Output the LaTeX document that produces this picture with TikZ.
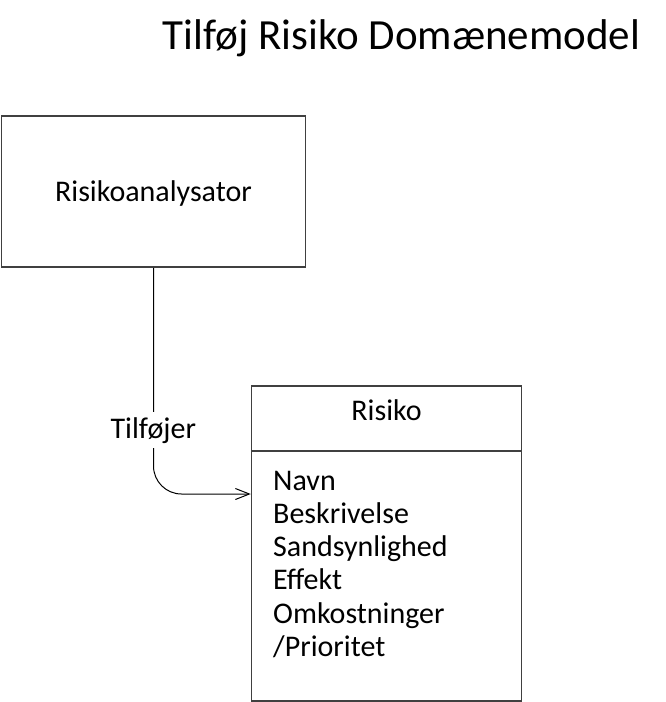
\documentclass[tikz,border=0pt]{standalone}
\usepackage{fontspec}
\setmainfont{Carlito}
\usetikzlibrary{arrows.meta}

\definecolor{kant}{HTML}{404040}

\tikzstyle{block} = [rectangle, draw=kant, line width=1.5pt, fill=white, inner sep=0pt]
\tikzstyle{tekst} = [font=\fontsize{30}{33}\selectfont, inner sep=0pt]
\tikzstyle{arrow} = [line width=1pt, ->, >={Straight Barb[length=14pt,width=11pt]}]

\begin{document}
\begin{tikzpicture}[x=1pt, y=-1pt]
                \useasboundingbox (0,0) rectangle (665,702);
                \node (titel) [anchor=base, font=\fontsize{43}{45}\selectfont, inner sep=0pt] at (401.5,49) {Tilføj Risiko Domænemodel};

                \node (analysator) [block, minimum width=304pt, minimum height=151pt] at (153.5,191.5) {};
                \node (analysatornavn) [tekst, anchor=base] at (153.5,201) {Risikoanalysator};

                \node (risiko) [block, minimum width=270pt, minimum height=315pt] at (386.5,543.5) {};
                \node (risikonavn) [tekst, anchor=base] at (386.5,420.5) {Risiko};
                \coordinate (skille) at (386.5,451);
                \draw [draw=kant, line width=1.5pt] (risiko.west |- skille) -- (risiko.east |- skille);

                \foreach \felt [count=\i] in {Navn, Beskrivelse, Sandsynlighed, Effekt, Omkostninger, /Prioritet}
                    \node (felt\i) [tekst, anchor=base west] at (273, 490+33.3*\i-33.3) {\felt};

                \coordinate (pil) at (0,494);
                \draw [arrow, rounded corners=28pt] (analysator.south) |- (risiko.west |- pil);
                \node (tilfoejer) [tekst, anchor=base, fill=white, inner ysep=5pt] at (153.3,438) {Tilføjer};
\end{tikzpicture}
\end{document}
